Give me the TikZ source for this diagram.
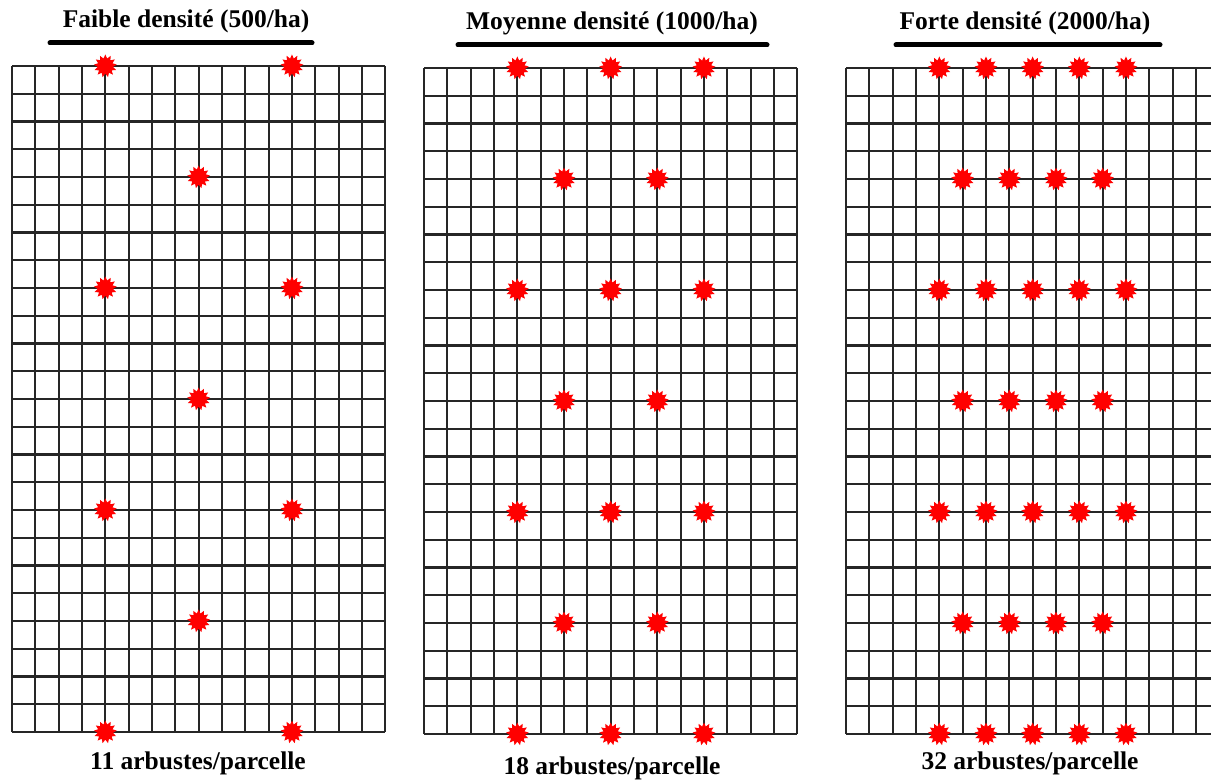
\documentclass[tikz,border=0pt]{standalone}
\usepackage{fontspec}
\setmainfont{Liberation Serif}
\usetikzlibrary{shapes.geometric}

\tikzset{
  grille/.style={line width=2.2pt, black!85},
  arbuste/.style={star, star points=13, star point ratio=1.5, fill=red, draw=none,
    minimum size=23pt, inner sep=0pt},
  titre/.style={font=\bfseries\fontsize{25.5}{28}\selectfont, inner sep=0pt},
  legende/.style={font=\bfseries\fontsize{25.5}{28}\selectfont, inner sep=0pt},
  trait/.style={line width=5pt, line cap=round}
}

% grille 16 x 24 d'une parcelle, origine en haut a gauche
\newcommand{\grilleparcelle}{%
  \foreach \c in {0,...,16}
    \draw[grille] (\c*23.33,0) -- (\c*23.33,-666);
  \foreach \r in {0,...,24}
    \draw[grille] (0,-\r*27.75) -- (373.3,-\r*27.75);
}

\begin{document}
\begin{tikzpicture}[x=1pt, y=1pt]
  \useasboundingbox (0,0) rectangle (1211,780);

  % faible densite
  \node[titre] (t1) at (186,759) {Faible densité (500/ha)};
  \draw[trait] (50,737) -- (312,737);
  \begin{scope}[shift={(12,714)}]
    \grilleparcelle
    \foreach \r/\c in {0/4,0/12,4/8,8/4,8/12,12/8,16/4,16/12,20/8,24/4,24/12}
      \node[arbuste] (a1-\r-\c) at (\c*23.33,-\r*27.75) {};
  \end{scope}
  \node[legende] (l1) at (198,17) {11 arbustes/parcelle};

  % moyenne densite
  \node[titre] (t2) at (612,757) {Moyenne densité (1000/ha)};
  \draw[trait] (458,735) -- (767,735);
  \begin{scope}[shift={(424,712)}]
    \grilleparcelle
    \foreach \r/\c in {0/4,0/8,0/12,4/6,4/10,8/4,8/8,8/12,12/6,12/10,16/4,16/8,16/12,20/6,20/10,24/4,24/8,24/12}
      \node[arbuste] (a2-\r-\c) at (\c*23.33,-\r*27.75) {};
  \end{scope}
  \node[legende] (l2) at (612,12) {18 arbustes/parcelle};

  % forte densite
  \node[titre] (t3) at (1025,757) {Forte densité (2000/ha)};
  \draw[trait] (896,735) -- (1160,735);
  \begin{scope}
    \clip (0,0) rectangle (1211,780);
    \begin{scope}[shift={(846,712)}]
      \grilleparcelle
      \foreach \r/\c in {0/4,0/6,0/8,0/10,0/12,4/5,4/7,4/9,4/11,8/4,8/6,8/8,8/10,8/12,12/5,12/7,12/9,12/11,16/4,16/6,16/8,16/10,16/12,20/5,20/7,20/9,20/11,24/4,24/6,24/8,24/10,24/12}
        \node[arbuste] (a3-\r-\c) at (\c*23.33,-\r*27.75) {};
    \end{scope}
  \end{scope}
  \node[legende] (l3) at (1030,17) {32 arbustes/parcelle};
\end{tikzpicture}
\end{document}
